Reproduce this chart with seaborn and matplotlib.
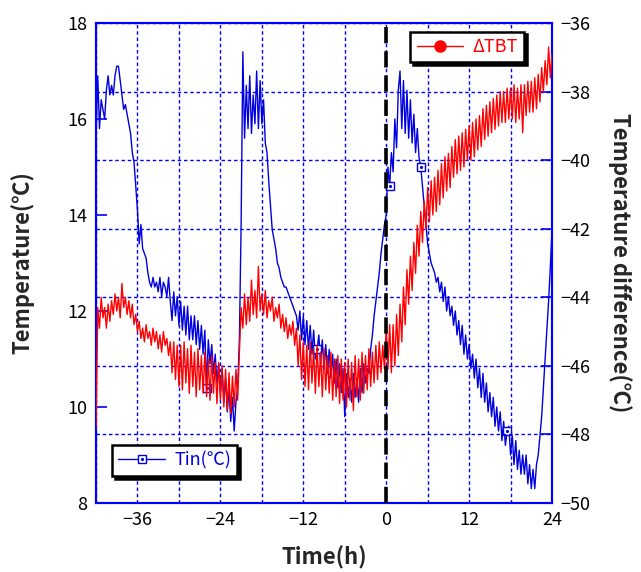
import matplotlib
matplotlib.use("Agg")
import numpy as np
import pandas as pd
import seaborn as sns
import matplotlib.pyplot as plt
from matplotlib.lines import Line2D
from matplotlib.legend_handler import HandlerTuple
from matplotlib.ticker import MultipleLocator

# sampling time (h), quarter-hour steps
time_h = np.arange(-42.0, 24.001, 0.25)

# indoor temperature Tin (degC), left axis; one row = 6 h
tin = [
    15.6, 16.9, 15.8, 16.4, 16.2, 16.0, 16.6, 16.9, 16.5, 16.7, 16.5, 16.9,
    17.1, 17.1, 16.8, 16.5, 16.2, 16.3, 16.1, 15.9, 15.7, 15.3, 15.1, 14.6,
    14.1, 13.4, 13.8, 13.3, 13.2, 13.1, 12.8, 12.6, 12.5, 12.7, 12.5, 12.6,
    12.4, 12.7, 12.3, 12.6, 12.5, 12.3, 12.7, 12.2, 11.8, 12.4, 11.9, 12.3,
    11.7, 12.2, 11.6, 12.1, 11.5, 12.1, 11.4, 11.9, 11.4, 11.9, 11.3, 11.8,
    11.2, 11.7, 11.1, 11.6, 10.4, 11.4, 10.9, 11.3, 10.7, 11.1, 10.5, 10.9,
    10.3, 10.8, 10.1, 10.6, 9.9, 10.4, 9.7, 10.2, 9.5, 10.1, 10.4, 11.4,
    13.8, 17.4, 15.6, 16.7, 15.8, 16.9, 15.7, 16.5, 15.9, 17.0, 15.8, 16.8,
    15.9, 16.4, 15.5, 15.3, 14.7, 14.2, 13.7, 13.5, 13.3, 13.0, 12.9, 12.7,
    12.6, 12.5, 12.5, 12.4, 12.3, 12.2, 12.1, 12.0, 11.9, 11.6, 12.0, 11.4,
    11.9, 11.3, 11.8, 11.2, 11.7, 11.1, 11.6, 11.0, 11.2, 11.5, 10.9, 11.4,
    10.8, 11.3, 10.7, 11.2, 10.6, 11.1, 10.5, 11.0, 10.4, 10.9, 10.3, 10.8,
    9.8, 10.7, 10.2, 10.6, 10.1, 10.7, 10.2, 10.6, 10.1, 10.8, 10.3, 10.9,
    10.5, 10.8, 10.7, 11.2, 11.5, 11.9, 12.2, 12.5, 12.8, 13.2, 13.5, 13.8,
    14.0, 15.0, 14.6, 15.3, 14.9, 16.0, 15.4, 16.6, 17.0, 15.8, 16.8, 15.7,
    16.6, 15.6, 16.4, 15.5, 16.1, 15.3, 15.8, 15.2, 15.0, 14.6, 14.2, 13.8,
    13.4, 13.2, 13.0, 12.9, 12.8, 12.6, 12.7, 12.4, 12.6, 12.2, 12.5, 12.0,
    12.3, 11.9, 12.1, 11.7, 12.0, 11.5, 11.8, 11.3, 11.7, 11.1, 11.5, 11.0,
    11.3, 10.8, 11.1, 10.6, 11.0, 10.4, 10.8, 10.2, 10.7, 10.1, 10.5, 9.9,
    10.3, 9.8, 10.2, 9.6, 10.0, 9.5, 9.9, 9.3, 9.7, 9.2, 9.5, 9.6,
    9.0, 9.4, 8.8, 9.3, 8.7, 9.1, 8.6, 9.0, 8.6, 9.0, 8.4, 8.8,
    8.3, 8.7, 8.3, 8.8, 9.0, 9.4, 9.8, 10.4, 11.0, 11.6, 12.2, 12.9,
    13.7,
]

# temperature difference dTBT (degC), right axis; one row = 6 h
dtbt = [
    -47.8, -44.3, -44.9, -44.0, -44.6, -44.3, -44.9, -44.2, -44.7, -44.1, -44.5, -43.9,
    -44.4, -44.0, -44.6, -43.6, -44.3, -44.0, -44.5, -44.1, -44.6, -44.2, -44.8, -44.5,
    -45.0, -44.7, -45.2, -44.9, -45.3, -44.8, -45.2, -45.0, -45.4, -44.9, -45.3, -45.0,
    -45.5, -45.1, -45.6, -45.0, -45.4, -45.2, -45.7, -45.3, -46.2, -45.3, -46.4, -45.4,
    -46.6, -45.4, -46.7, -45.3, -46.5, -45.5, -46.8, -45.4, -46.6, -45.6, -46.9, -45.5,
    -46.7, -45.7, -46.8, -45.6, -46.9, -45.8, -47.0, -45.7, -46.8, -45.9, -47.1, -45.9,
    -47.0, -46.0, -47.2, -46.1, -47.3, -46.2, -47.4, -46.3, -47.2, -46.1, -47.0, -45.6,
    -44.3, -44.9, -43.9, -44.8, -44.0, -44.7, -43.5, -44.5, -43.8, -44.6, -43.1, -44.4,
    -43.9, -44.5, -43.8, -44.6, -44.1, -44.4, -44.0, -44.7, -44.3, -44.6, -44.2, -44.9,
    -44.5, -45.0, -44.6, -45.2, -44.8, -45.1, -44.7, -45.4, -44.9, -46.0, -45.1, -46.4,
    -45.3, -46.6, -45.4, -46.7, -45.3, -46.5, -45.5, -46.8, -45.4, -46.6, -45.6, -46.9,
    -45.5, -46.7, -45.7, -46.8, -45.6, -47.0, -45.8, -46.9, -45.7, -47.1, -45.8, -47.0,
    -45.9, -47.2, -45.8, -47.0, -45.9, -47.3, -45.7, -46.9, -45.8, -47.0, -45.6, -46.8,
    -45.7, -46.7, -45.5, -46.6, -45.6, -46.5, -45.4, -46.4, -45.3, -46.2, -45.4, -46.1,
    -44.9, -46.1, -44.8, -46.2, -44.8, -46.0, -44.5, -45.7, -44.2, -45.3, -43.7, -44.8,
    -43.2, -44.2, -42.8, -43.8, -42.4, -43.3, -41.9, -42.8, -41.5, -42.4, -41.2, -42.0,
    -40.8, -41.8, -40.6, -41.6, -40.5, -41.5, -40.3, -41.3, -40.1, -41.1, -39.9, -40.9,
    -39.8, -40.8, -39.6, -40.5, -39.4, -40.4, -39.3, -40.3, -39.2, -40.2, -39.1, -40.0,
    -39.0, -40.0, -38.9, -39.9, -38.8, -39.7, -38.7, -39.6, -38.5, -39.4, -38.4, -39.3,
    -38.3, -39.2, -38.2, -39.1, -38.1, -39.0, -38.0, -38.9, -38.0, -38.9, -37.9, -38.8,
    -37.9, -38.8, -37.8, -38.9, -37.9, -38.8, -37.8, -39.2, -37.8, -38.7, -37.7, -38.6,
    -37.7, -38.6, -37.6, -38.5, -37.5, -38.3, -37.3, -38.0, -37.1, -37.8, -36.7, -37.6,
    -36.9,
]

# times at which Tin symbols are shown
tin_marker_times = [-26.0, -10.0, 0.5, 5.0, 17.5]

x_ticks = [-36, -24, -12, 0, 12, 24]

df = pd.DataFrame({"time": time_h, "Tin": tin, "dTBT": dtbt})
marker_idx = [int(np.argmin(np.abs(time_h - t))) for t in tin_marker_times]

BLUE = "#0000dd"
GRID_BLUE = "#0000ff"
RED = "#ff0000"

sns.set_style("white")
plt.rcParams["font.family"] = ["Noto Sans CJK JP", "DejaVu Sans"]
plt.rcParams["axes.unicode_minus"] = True

fig = plt.figure(figsize=(6.41, 5.72), dpi=100)
ax = fig.add_axes([0.1498, 0.1206, 0.7114, 0.8392])
ax2 = ax.twinx()

# Tin on the left axis
sns.lineplot(data=df, x="time", y="Tin", ax=ax, color=BLUE, linewidth=1.0,
             marker="s", markersize=6, markerfacecolor="white",
             markeredgecolor=BLUE, markeredgewidth=1.0, markevery=marker_idx,
             zorder=3, legend=False)
ax.plot(df["time"], df["Tin"], ls="none", marker=".", markersize=2.5,
        color=BLUE, markevery=marker_idx, zorder=4)

# dTBT on the right axis
sns.lineplot(data=df, x="time", y="dTBT", ax=ax2, color=RED, linewidth=1.0,
             zorder=3, legend=False)

ax2.axvline(0, color="black", linewidth=2.6, linestyle=(0, (4.5, 2.2)), zorder=6)

ax.set_xlim(-42, 24)
ax.set_ylim(8, 18)
ax2.set_ylim(-50, -36)
ax.set_xticks(x_ticks)
ax.xaxis.set_minor_locator(MultipleLocator(6))
ax.yaxis.set_major_locator(MultipleLocator(2))
ax2.yaxis.set_major_locator(MultipleLocator(2))

grid_kw = dict(color=GRID_BLUE, linestyle=(0, (2.5, 2.0)), linewidth=1.0)
ax.grid(False)
ax2.grid(False)
ax.xaxis.grid(True, which="both", **grid_kw)
ax2.yaxis.grid(True, which="major", **grid_kw)
ax.set_axisbelow(True)

for a in (ax, ax2):
    for sp in a.spines.values():
        sp.set_color(GRID_BLUE)
        sp.set_linewidth(1.5)
        sp.set_visible(True)
    a.tick_params(axis="both", which="major", direction="in", length=8,
                  width=1.2, color=GRID_BLUE, labelsize=13, labelcolor="black",
                  pad=6)
    a.tick_params(axis="both", which="minor", length=0)

ax.set_xlabel("Time(h)", fontsize=16, fontweight="bold", labelpad=12)
ax.set_ylabel("Temperature(℃)", fontsize=16, fontweight="bold", labelpad=24)
ax2.set_ylabel("Temperature difference(℃)", fontsize=16, fontweight="bold",
               rotation=-90, labelpad=30)

shadow = {"color": "black", "alpha": 1.0}

h_dtbt = Line2D([], [], color=RED, linewidth=1.0, marker="o", markersize=8,
                markerfacecolor=RED, markeredgecolor=RED)
leg1 = ax2.legend([h_dtbt], ["ΔTBT"], loc="upper left",
                  bbox_to_anchor=(0.689, 0.982), fontsize=13, labelcolor=RED,
                  frameon=True, fancybox=False, shadow=shadow, framealpha=1,
                  edgecolor="black", handlelength=2.6, borderpad=0.35,
                  handletextpad=0.5, borderaxespad=0)
leg1.get_frame().set_linewidth(1.8)
ax2.add_artist(leg1)

h_sq = Line2D([], [], color=BLUE, linewidth=1.0, marker="s", markersize=6,
              markerfacecolor="white", markeredgecolor=BLUE)
h_dot = Line2D([], [], ls="none", marker=".", markersize=2.5, color=BLUE)
leg2 = ax2.legend([(h_sq, h_dot)], ["Tin(℃)"], loc="upper left",
                  bbox_to_anchor=(0.035, 0.121), fontsize=13, labelcolor=BLUE,
                  frameon=True, fancybox=False, shadow=shadow, framealpha=1,
                  edgecolor="black", handlelength=2.6, borderpad=0.35,
                  handletextpad=0.5, borderaxespad=0,
                  handler_map={tuple: HandlerTuple(ndivide=1)})
leg2.get_frame().set_linewidth(1.8)

fig.savefig("out.png", dpi=100)
